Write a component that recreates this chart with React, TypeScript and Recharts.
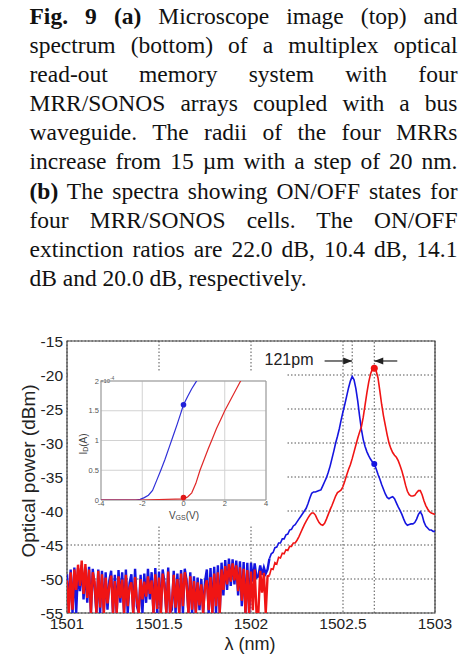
import React from 'react';
import {
  LineChart,
  Line,
  XAxis,
  YAxis,
  CartesianGrid,
  ReferenceLine,
  ReferenceDot,
  ReferenceArea,
} from 'recharts';

// ---------- caption ----------
const captionLines: { bold?: string; text: string }[] = [
  { bold: 'Fig. 9 (a)', text: ' Microscope image (top) and' },
  { text: 'spectrum (bottom) of a multiplex optical' },
  { text: 'read-out memory system with four' },
  { text: 'MRR/SONOS arrays coupled with a bus' },
  { text: 'waveguide. The radii of the four MRRs' },
  { text: 'increase from 15 µm with a step of 20 nm.' },
  { bold: '(b)', text: ' The spectra showing ON/OFF states for' },
  { text: 'four MRR/SONOS cells. The ON/OFF' },
  { text: 'extinction ratios are 22.0 dB, 10.4 dB, 14.1' },
  { text: 'dB and 20.0 dB, respectively.' },
];

// ---------- main spectrum ----------
const LAMBDA_START = 1501;
const LAMBDA_STEP = 0.01;

// 1501.00 .. 1502.09 (noise floor)
const blueNoise = [
  -49.3, -54.0, -48.6, -55, -48.3, -55, -48.4, -51.8, -47.9, -53.0,
  -48.3, -53.5, -48.2, -55, -48.5, -51.2, -55, -48.6, -55, -48.8,
  -55, -49.0, -54.5, -50.2, -48.8, -55, -49.4, -55, -48.7, -53.5,
  -49.0, -55, -48.6, -55, -50.6, -49.3, -55, -48.5, -54.0, -55,
  -49.4, -55, -49.2, -53.5, -48.5, -53.0, -49.0, -55, -48.4, -55,
  -48.9, -55, -48.6, -50.6, -55, -48.3, -55, -54.5, -48.8, -55,
  -49.2, -55, -48.7, -55, -48.5, -50.2, -55, -49.0, -55, -49.6,
  -55, -49.8, -54.6, -50.0, -55, -50.4, -48.6, -55, -48.4, -55,
  -48.2, -55, -48.0, -55, -47.6, -52.4, -47.2, -51.6, -47.0, -51.0,
  -47.1, -50.8, -47.3, -52.4, -47.4, -54.0, -47.5, -55, -47.6, -55,
  -47.6, -50.4, -47.7, -49.8, -49.6, -48.0, -49.4, -48.3, -49.2, -48.6,
];
const redNoise = [
  -50.2, -55, -49.0, -54.5, -48.6, -51.6, -47.9, -51.0, -47.3, -52.2,
  -47.8, -52.8, -48.6, -55, -49.0, -50.4, -55, -48.8, -54.2, -49.3,
  -55, -49.8, -53.6, -51.0, -49.5, -55, -50.3, -55, -49.6, -52.8,
  -50.1, -55, -49.4, -54.0, -51.2, -50.5, -55, -49.7, -53.2, -55,
  -50.0, -53.0, -50.4, -52.6, -49.6, -52.2, -50.2, -55, -49.3, -54.4,
  -49.8, -55, -49.2, -51.0, -55, -48.9, -55, -53.6, -49.4, -54.2,
  -50.0, -55, -49.2, -54.0, -49.0, -50.8, -55, -49.6, -54.5, -50.3,
  -55, -50.5, -53.9, -50.8, -55, -51.2, -50.2, -54.6, -49.7, -55,
  -49.2, -54.0, -49.0, -55, -48.6, -51.6, -48.1, -50.8, -47.8, -50.4,
  -47.7, -50.2, -48.0, -51.8, -48.3, -53.2, -48.5, -55, -48.7, -55,
  -48.9, -54.6, -48.6, -55, -55, -48.8, -52.0, -49.1, -55, -49.6,
];
// 1502.10 .. 1503.00 (resonances)
const blueSmooth = [
  -47.0, -46.3, -46.1, -45.4, -45.3, -44.7, -44.7, -44.1, -44.1, -43.5,
  -43.4, -42.8, -42.7, -42.2, -42.0, -41.6, -41.2, -40.8, -40.4, -40.0,
  -39.6, -38.9, -38.1, -37.4, -37.2, -37.2, -37.1, -37.0, -36.9, -36.3,
  -35.7, -35.1, -34.3, -33.4, -32.3, -31.2, -30.0, -29.0, -27.9, -26.6,
  -25.4, -24.3, -23.1, -21.9, -20.9, -20.2, -20.7, -22.0, -23.8, -26.0,
  -28.0, -29.5, -30.5, -31.3, -31.9, -32.4, -32.8, -33.1, -33.8, -34.6,
  -35.3, -36.1, -36.8, -37.5, -38.0, -38.2, -38.0, -37.9, -38.2, -38.8,
  -39.4, -39.9, -40.5, -41.2, -41.8, -42.1, -42.0, -41.9, -41.9, -41.7,
  -41.2, -40.5, -40.1, -40.6, -41.6, -42.2, -42.5, -42.8, -42.8, -43.0,
  -43.0,
];
const redSmooth = [
  -49.5, -48.5, -48.6, -47.6, -47.8, -46.8, -46.9, -46.2, -46.3, -45.7,
  -45.8, -45.2, -45.2, -44.7, -44.7, -44.3, -43.8, -43.2, -42.6, -42.0,
  -41.5, -41.0, -40.6, -40.3, -40.3, -40.6, -41.2, -41.7, -42.0, -42.1,
  -41.8, -41.2, -40.5, -39.8, -39.2, -38.5, -37.8, -37.3, -37.1, -36.9,
  -36.4, -35.6, -34.7, -33.9, -33.2, -32.3, -31.3, -30.3, -29.3, -28.4,
  -27.6, -26.2, -24.4, -22.6, -21.0, -19.8, -19.1, -19.0, -19.4, -20.4,
  -22.3, -24.3, -26.0, -27.4, -28.8, -30.0, -30.8, -31.4, -31.8, -32.1,
  -32.6, -33.3, -34.1, -35.1, -36.2, -37.1, -37.6, -37.8, -37.8, -37.7,
  -37.3, -37.0, -37.0, -37.6, -38.5, -39.2, -39.7, -40.1, -40.3, -40.4,
  -40.5,
];
const NOISE_LEN = blueNoise.length;
const blueDbm = [...blueNoise, ...blueSmooth];
const redDbm = [...redNoise, ...redSmooth];
// noisy part drawn with a heavier stroke, the resonance part with a lighter one
const spectrum = blueDbm.map((b, i) => ({
  l: Math.round((LAMBDA_START + i * LAMBDA_STEP) * 100) / 100,
  blueN: i <= NOISE_LEN ? b : null,
  blueS: i >= NOISE_LEN ? b : null,
  redN: i <= NOISE_LEN ? redDbm[i] : null,
  redS: i >= NOISE_LEN ? redDbm[i] : null,
}));

const xTicks = [1501, 1501.5, 1502, 1502.5, 1503];
const yTicks = [-55, -50, -45, -40, -35, -30, -25, -20, -15];

const bluePeak = { l: 1502.55, v: -20.2 };
const redPeak = { l: 1502.67, v: -19.0 };
const blueAtRedPeak = { l: 1502.67, v: -33.1 };
const arrowLevel = -17.94;
const arrowLeftStart = 1502.40;
const arrowRightStart = 1502.795;

// ---------- inset: I_D vs V_GS (units of 1e-4 A) ----------
const vgsBlue = [-4, -3, -2.3, -2.1, -1.9, -1.7, -1.5, -1.3, -1.1, -0.9, -0.7, -0.5, -0.3, -0.15, 0, 0.2, 0.4, 0.6, 0.7];
const idBlue = [0, 0, 0, 0.01, 0.04, 0.08, 0.16, 0.33, 0.5, 0.68, 0.88, 1.08, 1.28, 1.44, 1.6, 1.74, 1.87, 1.98, 2.04];
const vgsRed = [-4, -2, 0, 0.2, 0.4, 0.6, 0.8, 1.0, 1.2, 1.4, 1.6, 1.8, 2.0, 2.2, 2.4, 2.6, 2.8, 3.0];
const idRed = [0, 0, 0.02, 0.05, 0.12, 0.28, 0.5, 0.68, 0.86, 1.03, 1.2, 1.35, 1.5, 1.63, 1.76, 1.89, 2.02, 2.12];
const insetBlue = vgsBlue.map((v, i) => ({ v, id: idBlue[i] }));
const insetRed = vgsRed.map((v, i) => ({ v, id: idRed[i] }));
const insetXTicks = [-4, -2, 0, 2, 4];
const insetYTicks = [0, 0.5, 1, 1.5, 2];
const insetBlueDot = { v: 0, id: 1.6 };
const insetRedDot = { v: 0, id: 0.04 };

const BLUE = '#1515e0';
const RED = '#f01414';
const SANS = "'Liberation Sans', Arial, Helvetica, sans-serif";

const arrowRight = (p: any) => (
  <path d={`M${p.cx},${p.cy} l-9,-3.5 l0,7 z`} fill="#222" />
);
const arrowLeft = (p: any) => (
  <path d={`M${p.cx},${p.cy} l9,-3.5 l0,7 z`} fill="#222" />
);

export default function App() {
  return (
    <div
      style={{
        position: 'absolute',
        left: 0,
        top: 0,
        width: 475,
        height: 660,
        background: '#fff',
        overflow: 'hidden',
      }}
    >
      <div
        style={{
          position: 'absolute',
          left: 29.5,
          top: 1.5,
          width: 428,
          fontFamily: "'Liberation Serif', 'Times New Roman', Times, serif",
          fontSize: 23.5,
          lineHeight: '29.2px',
          color: '#111',
        }}
      >
        {captionLines.map((ln, i) => (
          <div
            key={i}
            style={{
              height: 29.2,
              textAlign: i === captionLines.length - 1 ? 'left' : 'justify',
              textAlignLast: i === captionLines.length - 1 ? 'left' : 'justify',
            }}
          >
            {ln.bold ? <b>{ln.bold}</b> : null}
            {ln.text}
          </div>
        ))}
      </div>

      <div style={{ position: 'absolute', left: 0, top: 300 }}>
        <LineChart
          width={475}
          height={360}
          data={spectrum}
          margin={{ top: 41, right: 40, left: 0, bottom: 0 }}
        >
          <CartesianGrid stroke="#555" strokeDasharray="1.5 2" />
          <XAxis
            dataKey="l"
            type="number"
            domain={[1501, 1503]}
            ticks={xTicks}
            allowDataOverflow
            height={47}
            tickSize={0}
            tickMargin={5}
            axisLine={false}
            tick={{ fontSize: 15.5, fill: '#222', fontFamily: SANS }}
          />
          <YAxis
            type="number"
            domain={[-55, -15]}
            ticks={yTicks}
            allowDataOverflow
            width={67}
            tickSize={0}
            tickMargin={4}
            axisLine={false}
            tick={{ fontSize: 15.5, fill: '#222', fontFamily: SANS }}
          />
          <ReferenceLine x={redPeak.l} stroke="#555" strokeDasharray="1.5 2" />
          <ReferenceLine
            segment={[
              { x: bluePeak.l, y: -15 },
              { x: bluePeak.l, y: bluePeak.v },
            ]}
            stroke="#555"
            strokeDasharray="1.5 2"
          />
          <Line dataKey="blueN" stroke={BLUE} strokeWidth={2.4} dot={false} isAnimationActive={false} />
          <Line dataKey="blueS" stroke={BLUE} strokeWidth={1.6} dot={false} isAnimationActive={false} />
          <Line dataKey="redN" stroke={RED} strokeWidth={2.4} dot={false} isAnimationActive={false} />
          <Line dataKey="redS" stroke={RED} strokeWidth={1.6} dot={false} isAnimationActive={false} />
          <ReferenceArea
            x1={1501}
            x2={1503}
            y1={-55}
            y2={-15}
            fill="none"
            fillOpacity={0}
            stroke="#444"
            strokeWidth={1.2}
          />
          <ReferenceDot x={redPeak.l} y={redPeak.v} r={3.5} fill={RED} stroke="none" />
          <ReferenceDot x={blueAtRedPeak.l} y={blueAtRedPeak.v} r={3} fill={BLUE} stroke="none" />
          <ReferenceLine
            segment={[
              { x: arrowLeftStart, y: arrowLevel },
              { x: bluePeak.l, y: arrowLevel },
            ]}
            stroke="#222"
            strokeWidth={1.2}
          />
          <ReferenceLine
            segment={[
              { x: arrowRightStart, y: arrowLevel },
              { x: redPeak.l, y: arrowLevel },
            ]}
            stroke="#222"
            strokeWidth={1.2}
          />
          <ReferenceDot x={bluePeak.l} y={arrowLevel} r={4} shape={arrowRight} />
          <ReferenceDot x={redPeak.l} y={arrowLevel} r={4} shape={arrowLeft} />
          <text x={289} y={65} textAnchor="middle" fontSize={16} fill="#222" fontFamily={SANS}>
            121pm
          </text>
          <text
            x={28}
            y={171}
            transform="rotate(-90 28 171)"
            textAnchor="middle"
            dominantBaseline="central"
            fontSize={19}
            fill="#222"
            fontFamily={SANS}
          >
            Optical power (dBm)
          </text>
          <text
            x={250}
            y={344}
            textAnchor="middle"
            dominantBaseline="central"
            fontSize={18}
            fill="#222"
            fontFamily={SANS}
          >
            λ (nm)
          </text>
        </LineChart>
      </div>

      <div
        style={{
          position: 'absolute',
          left: 68,
          top: 372,
          width: 219,
          height: 154,
          background: '#fff',
        }}
      />

      <div style={{ position: 'absolute', left: 60, top: 370 }}>
        <LineChart width={215} height={160} margin={{ top: 11, right: 9, left: 0, bottom: 0 }}>
          <CartesianGrid stroke="#d2d2d2" />
          <XAxis
            dataKey="v"
            type="number"
            domain={[-4, 4]}
            ticks={insetXTicks}
            allowDataOverflow
            height={30}
            tickSize={0}
            tickMargin={1}
            axisLine={false}
            tick={{ fontSize: 7.5, fill: '#555', fontFamily: SANS }}
          />
          <YAxis
            type="number"
            domain={[0, 2]}
            ticks={insetYTicks}
            allowDataOverflow
            width={41}
            tickSize={0}
            tickMargin={2}
            axisLine={false}
            tick={{ fontSize: 7.5, fill: '#555', fontFamily: SANS }}
          />
          <Line
            data={insetBlue}
            dataKey="id"
            stroke="#3030d8"
            strokeWidth={1.2}
            dot={false}
            isAnimationActive={false}
          />
          <Line
            data={insetRed}
            dataKey="id"
            stroke="#e02828"
            strokeWidth={1.2}
            dot={false}
            isAnimationActive={false}
          />
          <ReferenceArea
            x1={-4}
            x2={4}
            y1={0}
            y2={2}
            fill="none"
            fillOpacity={0}
            stroke="#999"
            strokeWidth={1}
          />
          <ReferenceDot x={insetBlueDot.v} y={insetBlueDot.id} r={2.8} fill="#2020d8" stroke="none" />
          <ReferenceDot x={insetRedDot.v} y={insetRedDot.id} r={2.8} fill="#e01818" stroke="none" />
          <text x={40} y={13} fontSize={6} fill="#555" fontFamily={SANS}>
            ×10
            <tspan dy={-3} fontSize={4.5}>
              -4
            </tspan>
          </text>
          <text
            x={23}
            y={74}
            transform="rotate(-90 23 74)"
            textAnchor="middle"
            dominantBaseline="central"
            fontSize={10}
            fill="#444"
            fontFamily={SANS}
          >
            I
            <tspan dy={2} fontSize={7}>
              D
            </tspan>
            <tspan dy={-2}>(A)</tspan>
          </text>
          <text
            x={124}
            y={145}
            textAnchor="middle"
            dominantBaseline="central"
            fontSize={10}
            fill="#444"
            fontFamily={SANS}
          >
            V
            <tspan dy={2} fontSize={7}>
              GS
            </tspan>
            <tspan dy={-2}>(V)</tspan>
          </text>
        </LineChart>
      </div>
    </div>
  );
}
